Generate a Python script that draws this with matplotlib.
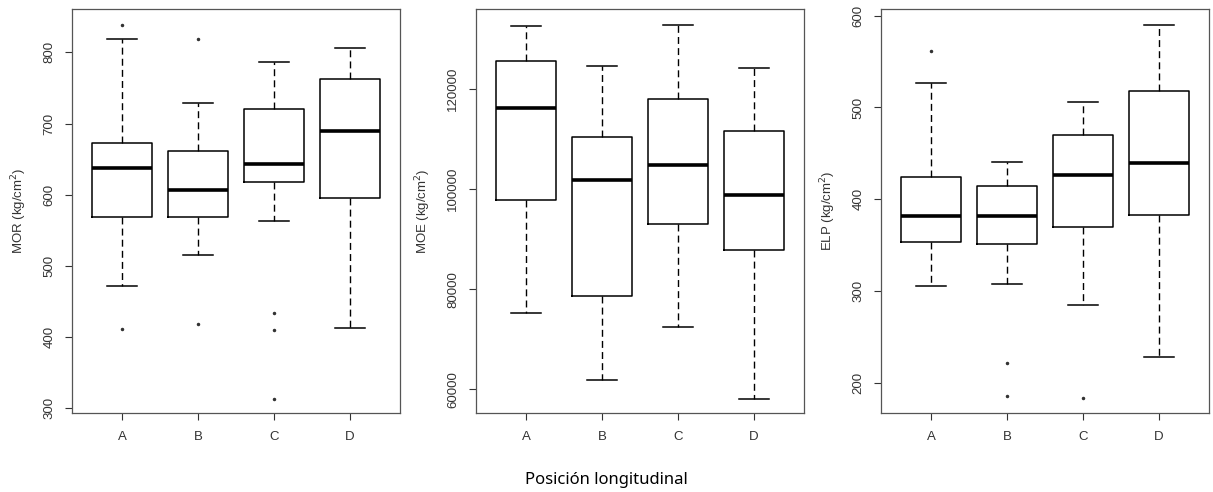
"""
Boxplots MOR / MOE / ELP por posición longitudinal
"""
import matplotlib
matplotlib.use('Agg')
import matplotlib.pyplot as plt

plt.rcParams['font.family'] = ['Liberation Sans', 'DejaVu Sans']

posiciones = ['A', 'B', 'C', 'D']

# MOR (kg/cm2)
mor_whislo = [472, 515, 563, 413]
mor_q1 = [569, 569, 618, 595]
mor_med = [638, 607, 643, 689]
mor_q3 = [672, 662, 721, 762]
mor_whishi = [819, 729, 786, 806]
mor_fliers = [[838, 411], [819, 418], [434, 410, 313], []]

# MOE (kg/cm2)
moe_whislo = [75200, 61880, 72400, 58120]
moe_q1 = [97880, 78680, 92940, 87740]
moe_med = [116200, 101740, 104800, 98800]
moe_q3 = [125600, 110340, 117940, 111540]
moe_whishi = [132600, 124480, 132740, 124140]
moe_fliers = [[], [], [], []]

# ELP (kg/cm2)
elp_whislo = [305, 308, 285, 228]
elp_q1 = [353, 351.5, 370, 382.5]
elp_med = [382, 382, 426, 439]
elp_q3 = [424, 414, 470, 518]
elp_whishi = [527, 441, 506, 590]
elp_fliers = [[561], [222, 185.5], [183], []]

paneles = [
    ('MOR (kg/cm$^2$)', mor_whislo, mor_q1, mor_med, mor_q3, mor_whishi, mor_fliers,
     (293, 861), [300, 400, 500, 600, 700, 800]),
    ('MOE (kg/cm$^2$)', moe_whislo, moe_q1, moe_med, moe_q3, moe_whishi, moe_fliers,
     (55260, 135940), [60000, 80000, 100000, 120000]),
    ('ELP (kg/cm$^2$)', elp_whislo, elp_q1, elp_med, elp_q3, elp_whishi, elp_fliers,
     (167, 607.3), [200, 300, 400, 500, 600]),
]

W, H = 1213, 492
fig = plt.figure(figsize=(W / 100, H / 100), dpi=100)
lefts = [72, 476, 881]
ancho = 328
gris = '#333333'

for left, (ylab, wlo, q1, med, q3, whi, fl, ylim, yticks) in zip(lefts, paneles):
    ax = fig.add_axes([left / W, (H - 413) / H, ancho / W, (413 - 9) / H])
    stats = []
    for i in range(len(posiciones)):
        stats.append(dict(label=posiciones[i], whislo=wlo[i], q1=q1[i], med=med[i],
                          q3=q3[i], whishi=whi[i], fliers=fl[i]))
    ax.bxp(stats, positions=range(1, 5), widths=0.8, capwidths=0.4,
           boxprops=dict(color='black', linewidth=1.1),
           medianprops=dict(color='black', linewidth=2.6, solid_capstyle='butt'),
           whiskerprops=dict(color='black', linewidth=1.0, linestyle=(0, (5, 3))),
           capprops=dict(color='black', linewidth=1.1),
           flierprops=dict(marker='o', markersize=1.5, markerfacecolor='#333333',
                           markeredgecolor='#333333'))
    ax.set_xlim(0.34, 4.66)
    ax.set_ylim(*ylim)
    ax.set_yticks(yticks)
    ax.set_yticklabels([str(t) for t in yticks], rotation=90, va='center')
    ax.tick_params(axis='both', direction='out', length=5, width=0.8,
                   colors=gris, labelsize=9.5)
    ax.tick_params(axis='x', pad=8)
    ax.tick_params(axis='y', pad=7)
    for sp in ax.spines.values():
        sp.set_color('#555555')
        sp.set_linewidth(0.9)
    ax.set_ylabel(ylab, fontsize=9.5, color=gris, labelpad=10)

fig.text(0.5, 1 - 480 / H, 'Posición longitudinal', ha='center', va='center',
         fontsize=12, family=['Noto Sans', 'DejaVu Sans'], color='black')

plt.savefig('out.png', dpi=100)
